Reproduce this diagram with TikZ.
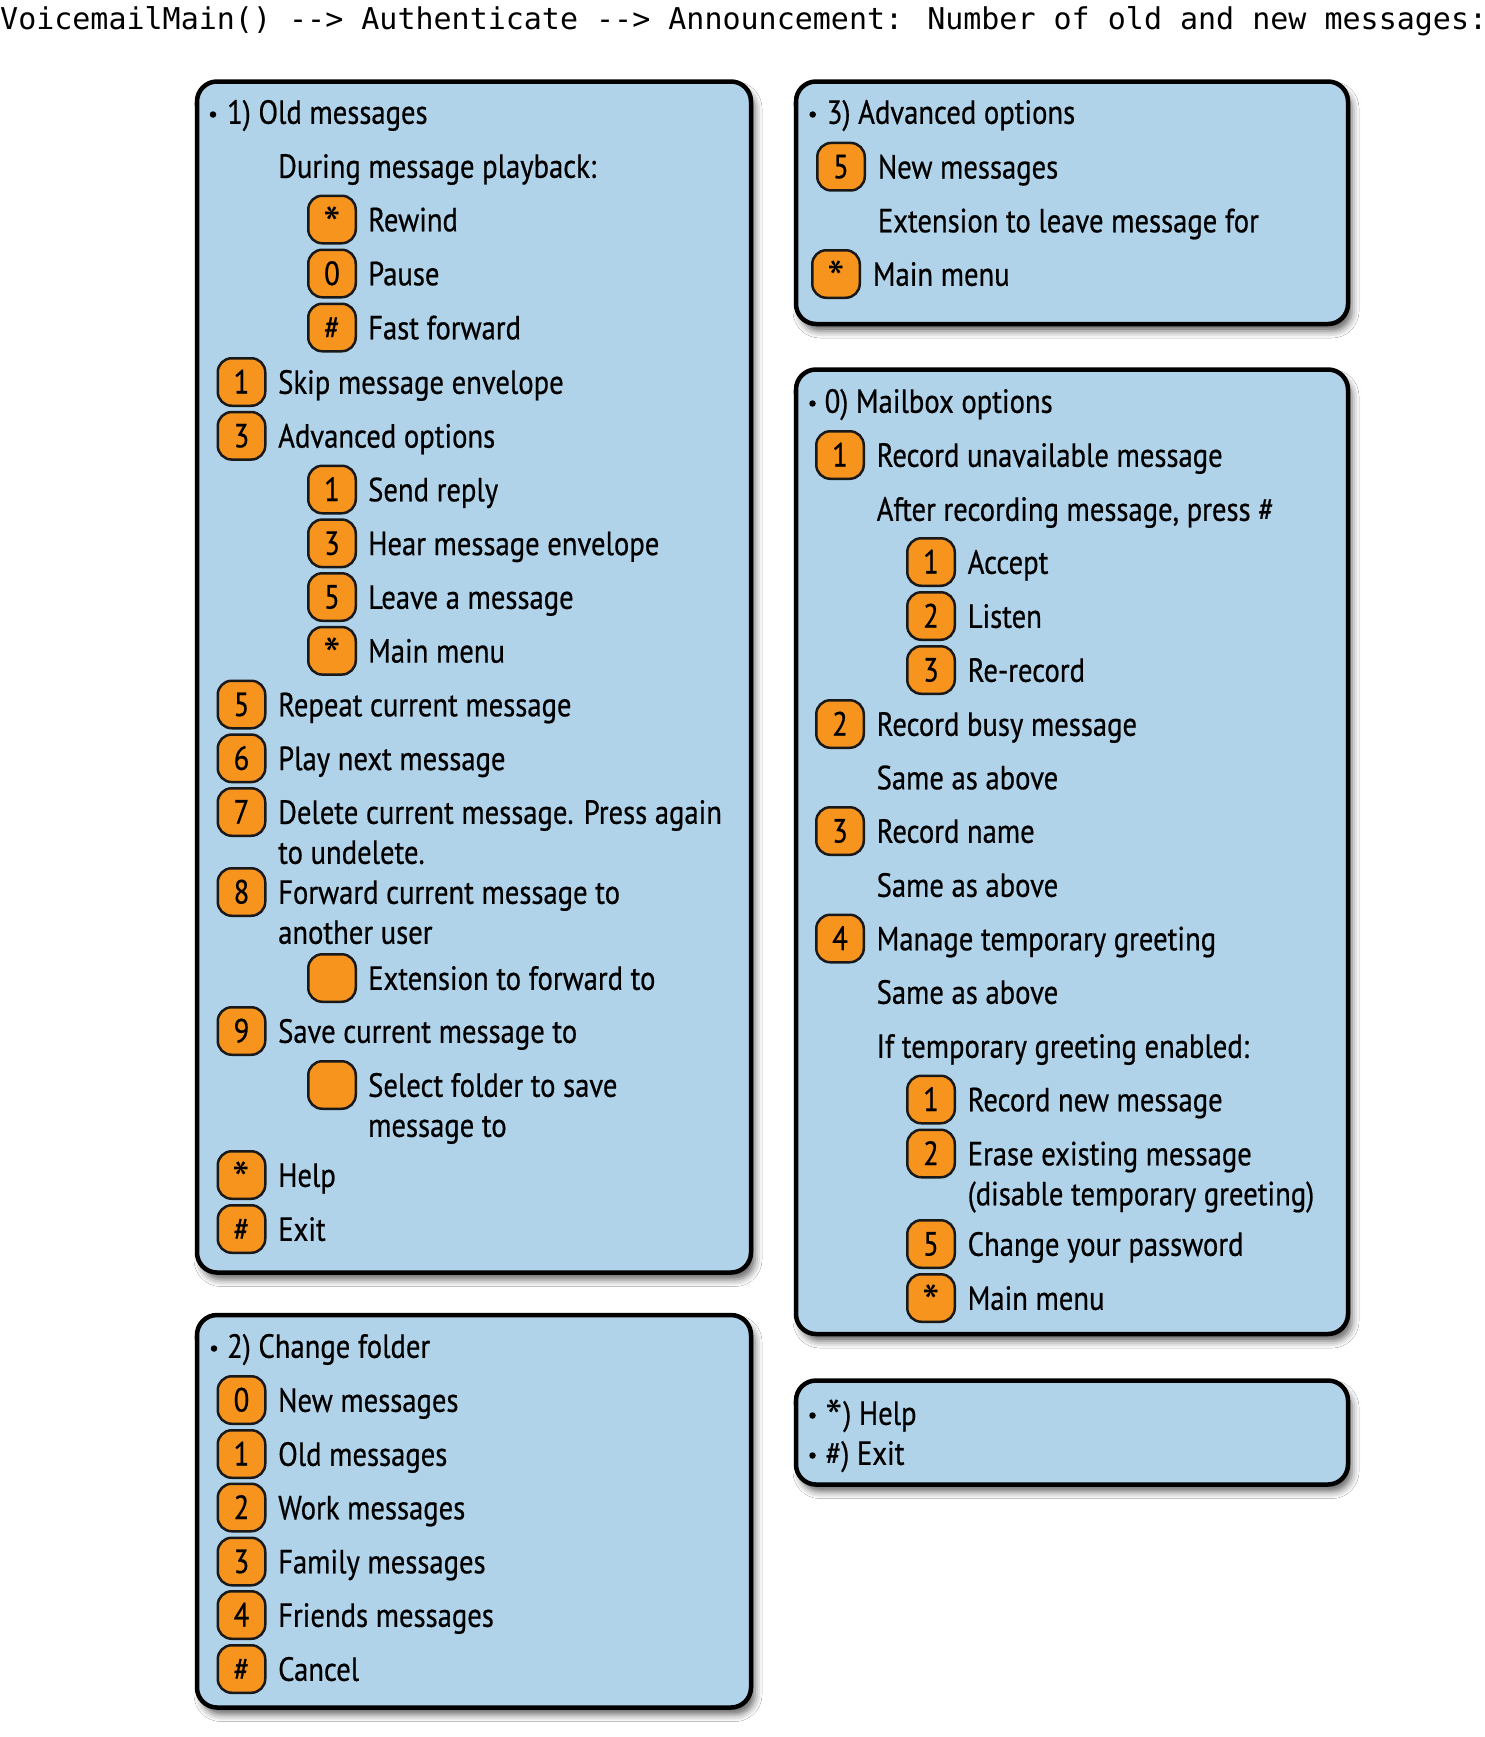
\documentclass[tikz,border=0pt]{standalone}
\usepackage{fontspec}
\setmainfont{PT Sans}[FakeStretch=0.855,FakeBold=0.6]
\newfontfamily\astfont{PT Sans}
\newfontfamily\titlefont{DejaVu Sans Mono}
\usetikzlibrary{shadows.blur}
\definecolor{panelblue}{HTML}{B1D3EA}
\definecolor{keyorange}{HTML}{F7941E}
\newcommand\lblfont{\fontsize{33.5}{40}\selectfont}
\newcommand\bigast{\smash{\raisebox{-11pt}{\astfont\fontsize{50}{50}\selectfont *}}}
\tikzset{
  panel/.style={draw=black, line width=4.5pt, fill=panelblue, rounded corners=20pt,
    blur shadow={shadow xshift=4pt, shadow yshift=-7pt, shadow blur radius=7pt, shadow opacity=60},
    anchor=north west, inner sep=0pt, outer sep=0pt},
  keybox/.style={draw=black!90, line width=2.5pt, fill=keyorange, rounded corners=14pt,
    minimum width=47.5pt, minimum height=47.5pt, inner sep=0pt, text height=23pt, text depth=0pt, font=\lblfont},
  lbl/.style={anchor=base west, inner sep=0pt, font=\lblfont},
  dot/.style={circle, fill=black, inner sep=0pt, minimum size=6.5pt}
}
\newcommand\krow[6]{%
  \node[keybox] (#1k) at (#2,#4) {#5};
  \node[lbl] (#1t) at (#3,#4+11.8) {#6};}
\newcommand\trow[4]{\node[lbl] (#1) at (#2,#3+11.8) {#4};}
\newcommand\brow[5]{%
  \node[dot] (#1b) at (#2,#4+2.5) {};
  \node[lbl] (#1t) at (#3,#4+11.8) {#5};}
\begin{document}
\begin{tikzpicture}[x=1pt,y=-1pt]
\fill[white] (0,0) rectangle (1485,1737);
\useasboundingbox (0,0) rectangle (1485,1737);
% title
\node[anchor=base west, inner sep=0pt, font=\titlefont\fontsize{30}{36}\selectfont] (title) at (0,29.3)
  {VoicemailMain() -{}-> Authenticate -{}-> Announcement: Number of old and new messages:};
% panels
\node[panel, minimum width=554pt, minimum height=1191pt] (b1) at (197,81.5) {};
\node[panel, minimum width=554pt, minimum height=392.5pt] (b2) at (197,1315) {};
\node[panel, minimum width=552pt, minimum height=242.5pt] (b3) at (796,81.5) {};
\node[panel, minimum width=552pt, minimum height=964.5pt] (b0) at (796,369.5) {};
\node[panel, minimum width=552pt, minimum height=104pt] (bh) at (796,1380.5) {};
% box 1
\brow{t1}{213}{227}{112}{1) Old messages}
\trow{during}{278}{166}{During message playback:}
\krow{rew}{332}{368}{219.5}{\bigast}{Rewind}
\krow{pau}{332}{368}{273.5}{0}{Pause}
\krow{ff}{332}{368}{327.5}{\#}{Fast forward}
\krow{skip}{241.5}{278}{382}{1}{Skip message envelope}
\krow{adv}{241.5}{278}{435.8}{3}{Advanced options}
\krow{send}{332}{368}{489.5}{1}{Send reply}
\krow{hear}{332}{368}{543.3}{3}{Hear message envelope}
\krow{leave}{332}{368}{597}{5}{Leave a message}
\krow{mma}{332}{368}{650.8}{\bigast}{Main menu}
\krow{rep}{241.5}{278}{704.5}{5}{Repeat current message}
\krow{play}{241.5}{278}{758.3}{6}{Play next message}
\krow{del}{241.5}{278}{812}{7}{Delete current message. Press again}
\trow{delb}{278}{852}{to undelete.}
\krow{fwd}{241.5}{278}{892}{8}{Forward current message to}
\trow{fwdb}{278}{932}{another user}
\krow{ext}{332}{368}{978}{}{Extension to forward to}
\krow{save}{241.5}{278}{1031}{9}{Save current message to}
\krow{sel}{332}{368}{1085}{}{Select folder to save}
\trow{selb}{368}{1125}{message to}
\krow{hlp}{241.5}{278}{1175}{\bigast}{Help}
\krow{ext1}{241.5}{278}{1229}{\#}{Exit}
% box 2
\brow{t2}{214}{227}{1346}{2) Change folder}
\krow{fnew}{241.5}{278}{1400}{0}{New messages}
\krow{fold}{241.5}{278}{1454}{1}{Old messages}
\krow{fwork}{241.5}{278}{1507.5}{2}{Work messages}
\krow{ffam}{241.5}{278}{1561.5}{3}{Family messages}
\krow{ffri}{241.5}{278}{1615}{4}{Friends messages}
\krow{fcan}{241.5}{278}{1669}{\#}{Cancel}
% box 3
\brow{t3}{812.7}{826.7}{112}{3) Advanced options}
\krow{anew}{841}{877.7}{166.7}{5}{New messages}
\trow{aext}{877.7}{220.5}{Extension to leave message for}
\krow{amm}{836}{872.7}{274}{\bigast}{Main menu}
% box 0
\brow{t0}{812.5}{824.5}{401}{0) Mailbox options}
\krow{unav}{840}{876.5}{455}{1}{Record unavailable message}
\trow{after}{876.5}{509}{After recording message, press \#}
\krow{acc}{931}{967.5}{562}{1}{Accept}
\krow{lis}{931}{967.5}{616}{2}{Listen}
\krow{rer}{931}{967.5}{670}{3}{Re-record}
\krow{busy}{840}{876.5}{724}{2}{Record busy message}
\trow{samea}{876.5}{777.5}{Same as above}
\krow{rname}{840}{876.5}{831}{3}{Record name}
\trow{sameb}{876.5}{885}{Same as above}
\krow{manage}{840}{876.5}{938.5}{4}{Manage temporary greeting}
\trow{samec}{876.5}{992}{Same as above}
\trow{iftemp}{876.5}{1046}{If temporary greeting enabled:}
\krow{recnew}{931}{967.5}{1099.5}{1}{Record new message}
\krow{erase}{931}{967.5}{1153.5}{2}{Erase existing message}
\trow{eraseb}{967.5}{1193.5}{(disable temporary greeting)}
\krow{chpw}{931}{967.5}{1244}{5}{Change your password}
\krow{mmb}{931}{967.5}{1298}{\bigast}{Main menu}
% help box
\brow{th}{812.5}{825.5}{1413}{\bigast) Help}
\brow{tx}{812.5}{825.5}{1453}{\#) Exit}
\end{tikzpicture}
\end{document}
